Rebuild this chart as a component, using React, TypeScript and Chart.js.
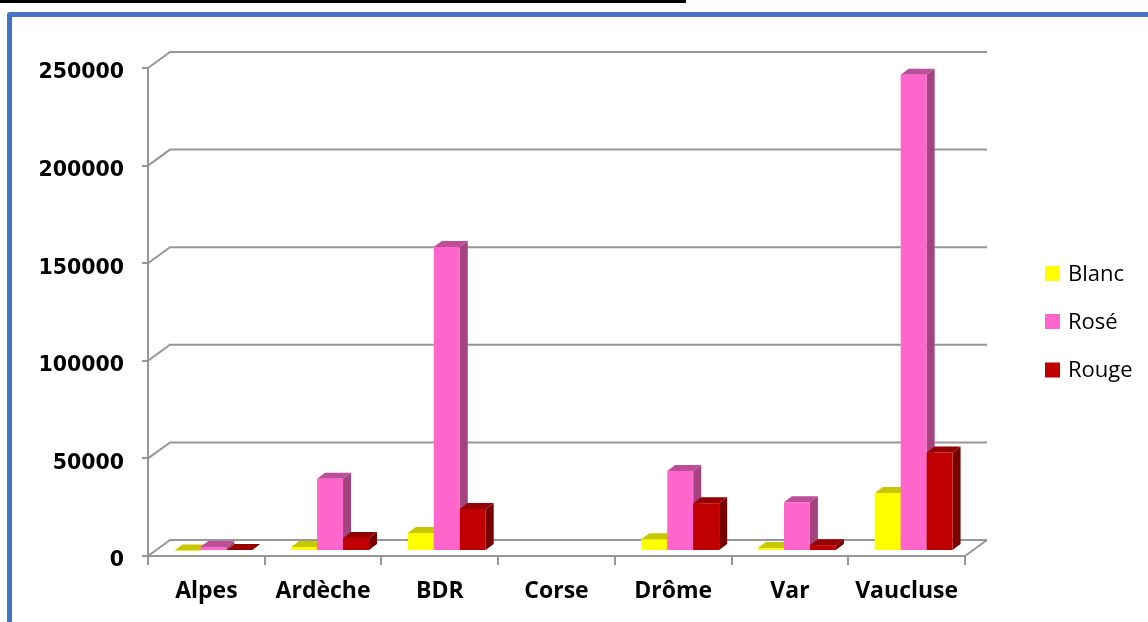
import React, { useEffect, useRef } from "react";
import { Chart, registerables } from "chart.js";

Chart.register(...registerables);

const categories = ["Alpes", "Ardèche", "BDR", "Corse", "Drôme", "Var", "Vaucluse"];
const seriesNames = ["Blanc", "Rosé", "Rouge"];
const blanc = [300, 2000, 9200, 0, 6000, 1500, 29700];
const rose = [2000, 37000, 155700, 0, 41000, 25000, 244000];
const rouge = [500, 6700, 21500, 0, 24500, 3000, 50500];
const yTicks = [0, 50000, 100000, 150000, 200000, 250000];

const FRONT = ["#FFFF00", "#FF66CC", "#C00000"];
const TOP = ["#C8C800", "#BD4E9A", "#960000"];
const SIDE = ["#A3A300", "#A5437F", "#780000"];
const GRID = "#979797";

// projection of the depth axis
const WALL_DX = 22;
const WALL_DY = -16;
const BAR_OFF_X = 7;
const BAR_OFF_Y = -5;
const BAR_DX = 8;
const BAR_DY = -6;

const threeD = {
  id: "threeD",
  beforeDatasetsDraw(chart: any) {
    const { ctx, chartArea: ca } = chart;
    const y = chart.scales.y;
    ctx.save();
    ctx.strokeStyle = GRID;
    ctx.lineWidth = 2;
    y.ticks.forEach((t: any) => {
      const py = y.getPixelForValue(t.value);
      ctx.beginPath();
      ctx.moveTo(ca.left, py);
      ctx.lineTo(ca.left + WALL_DX, py + WALL_DY);
      ctx.lineTo(ca.right + WALL_DX, py + WALL_DY);
      ctx.stroke();
    });
    const p0 = y.getPixelForValue(0);
    ctx.beginPath();
    ctx.moveTo(ca.right, p0);
    ctx.lineTo(ca.right + WALL_DX, p0 + WALL_DY);
    ctx.stroke();
    ctx.restore();

    ctx.save();
    ctx.translate(BAR_OFF_X, BAR_OFF_Y);
    const metas = chart.getSortedVisibleDatasetMetas().slice().sort((a: any, b: any) => a.index - b.index);
    for (let i = 0; i < categories.length; i++) {
      metas.forEach((meta: any) => {
        const di = meta.index;
        const v = chart.data.datasets[di].data[i];
        if (!v) return;
        const el = meta.data[i];
        const { x, y: top, base, width } = el.getProps(["x", "y", "base", "width"], true);
        const l = x - width / 2;
        const r = x + width / 2;
        ctx.fillStyle = SIDE[di];
        ctx.beginPath();
        ctx.moveTo(r, top);
        ctx.lineTo(r + BAR_DX, top + BAR_DY);
        ctx.lineTo(r + BAR_DX, base + BAR_DY);
        ctx.lineTo(r, base);
        ctx.closePath();
        ctx.fill();
        ctx.fillStyle = TOP[di];
        ctx.beginPath();
        ctx.moveTo(l, top);
        ctx.lineTo(r, top);
        ctx.lineTo(r + BAR_DX, top + BAR_DY);
        ctx.lineTo(l + BAR_DX, top + BAR_DY);
        ctx.closePath();
        ctx.fill();
        el.draw(ctx, ca);
      });
    }
    ctx.restore();
    return false;
  },
  afterDraw(chart: any) {
    const { ctx } = chart;
    const ys = [273.5, 321.5, 370];
    ctx.save();
    ctx.font = "22px 'Open Sans'";
    ctx.textBaseline = "middle";
    ctx.textAlign = "left";
    chart.data.datasets.forEach((ds: any, i: number) => {
      ctx.fillStyle = ds.backgroundColor;
      ctx.fillRect(1045, ys[i] - 7.5, 15, 15);
      ctx.fillStyle = "#000";
      ctx.fillText(ds.label, 1068, ys[i] + 1);
    });
    ctx.restore();
  },
};

export default function App() {
  const ref = useRef<HTMLCanvasElement | null>(null);
  useEffect(() => {
    if (!ref.current) return;
    const chart = new Chart(ref.current, {
      type: "bar",
      data: {
        labels: categories,
        datasets: [
          { label: seriesNames[0], data: blanc, backgroundColor: FRONT[0] },
          { label: seriesNames[1], data: rose, backgroundColor: FRONT[1] },
          { label: seriesNames[2], data: rouge, backgroundColor: FRONT[2] },
        ],
      },
      options: {
        responsive: false,
        animation: false,
        devicePixelRatio: 1,
        layout: { padding: { left: 0, top: 68, right: 183, bottom: 16 } },
        datasets: { bar: { categoryPercentage: 0.667, barPercentage: 1.0 } },
        plugins: { legend: { display: false }, tooltip: { enabled: false } },
        scales: {
          x: {
            offset: true,
            grid: { display: true, drawOnChartArea: false, drawTicks: true, tickLength: 9, color: GRID, lineWidth: 2 },
            border: { display: true, color: GRID, width: 2 },
            ticks: { color: "#000", padding: 13, font: { family: "'Open Sans'", size: 23, weight: "bold" } },
            afterFit: (s: any) => { s.height = 50; },
          },
          y: {
            min: 0,
            max: 250000,
            afterBuildTicks: (s: any) => { s.ticks = yTicks.map((v) => ({ value: v })); },
            grid: { display: true, drawOnChartArea: false, drawTicks: true, tickLength: 6, color: GRID, lineWidth: 2 },
            border: { display: true, color: GRID, width: 2 },
            ticks: {
              color: "#000",
              padding: 18,
              labelOffset: 5,
              font: { family: "'DejaVu Sans'", size: 20.5, weight: "bold" },
              callback: (v: any) => String(v),
            },
            afterFit: (s: any) => { s.width = 148; },
          },
        },
      },
      plugins: [threeD],
    });
    return () => chart.destroy();
  }, []);

  return (
    <div style={{ position: "fixed", left: 0, top: 0, width: 1148, height: 622, background: "#fff", overflow: "hidden" }}>
      <div style={{ position: "absolute", left: 0, top: 0, width: 686, height: 3, background: "#000" }} />
      <div
        style={{
          position: "absolute",
          left: 7,
          top: 12,
          width: 1300,
          height: 800,
          border: "5px solid #4472C4",
          borderRadius: 3,
          boxSizing: "border-box",
        }}
      />
      <canvas ref={ref} width={1148} height={622} style={{ position: "absolute", left: 0, top: 0 }} />
    </div>
  );
}
